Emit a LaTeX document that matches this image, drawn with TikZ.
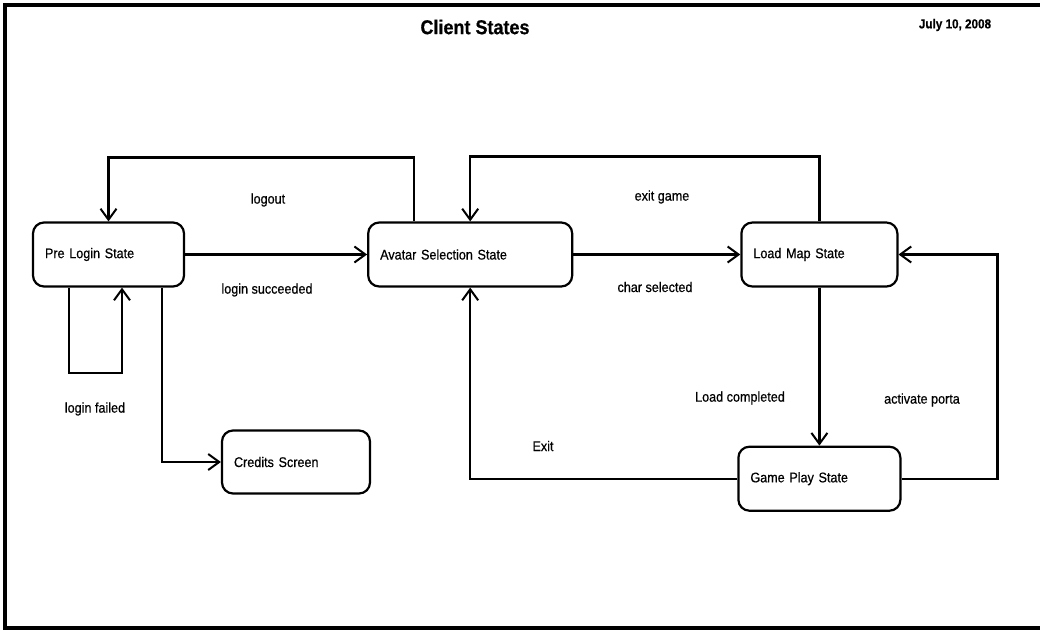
\documentclass[tikz,border=0pt]{standalone}
\usepackage{fontspec}
\setmainfont{Liberation Sans}[FakeStretch=0.9, FakeBold=0.6]
\usepackage{tikz}
\usetikzlibrary{positioning}
\usetikzlibrary{arrows.meta}

\tikzset{
  state/.style={draw, line width=2.2pt, rounded corners=11pt, minimum height=64pt,
    inner xsep=12pt, align=left, font=\fontsize{14}{16}\selectfont},
  lbl/.style={font=\fontsize{14}{16}\selectfont, inner sep=0pt},
  trans/.style={line width=2.2pt, -{Straight Barb[length=11pt,width=16pt,line width=2pt]}},
  frame/.style={line width=3.5pt}
}

\begin{document}
\begin{tikzpicture}[x=1pt, y=-1pt]
    \useasboundingbox (0,0) rectangle (1040,630);
    \draw[frame] (1040,5) -- (5,5) -- (5,628) -- (1040,628);

    \node(title) [font=\fontsize{20}{22}\selectfont\bfseries] at (475,27) {Client States};
    \node(date) [font=\fontsize{13}{15}\selectfont\bfseries] at (955,25) {July 10, 2008};

    \node(pre) [state, text width=127pt] at (108.5,254.5) {Pre Login State};
    \node(avatar) [state, text width=180pt, right = 182pt of pre] {Avatar Selection State};
    \node(loadmap) [state, text width=132pt, right = 167pt of avatar] {Load Map State};
    \node(gameplay) [state, text width=138pt, below = 158pt of loadmap] {Game Play State};
    \node(credits) [state, text width=124pt, minimum height=63pt] at (296,462) {Credits Screen};

    \node(logout) [lbl] at (268,200) {logout};
    \node(succ) [lbl] at (267,290) {login succeeded};
    \node(failed) [lbl] at (95,409) {login failed};
    \node(exitgame) [lbl] at (662,197) {exit game};
    \node(charsel) [lbl] at (655,287) {char selected};
    \node(loaded) [lbl] at (740,398) {Load completed};
    \node(portal) [lbl] at (922,400) {activate porta};
    \node(exit) [lbl] at (543,446) {Exit};

    \draw [trans] (pre.east) -- (avatar.west);
    \draw [trans] (avatar.east) -- (loadmap.west);
    \draw [trans] ([xshift=-56pt]avatar.north) -- ++(0,-64) -| (pre.north);
    \draw [trans] (loadmap.north) -- ++(0,-65) -| (avatar.north);
    \draw [trans] ([xshift=-39.5pt]pre.south) -- ++(0,85) -| ([xshift=13.5pt]pre.south);
    \draw [trans] ([xshift=53.5pt]pre.south) |- (credits.west);
    \draw [trans] (loadmap.south) -- (loadmap.south |- gameplay.north);
    \draw [trans] (gameplay.east) -- ++(96,0) |- (loadmap.east);
    \draw [trans] (gameplay.west) -| (avatar.south);
  \end{tikzpicture}
\end{document}
